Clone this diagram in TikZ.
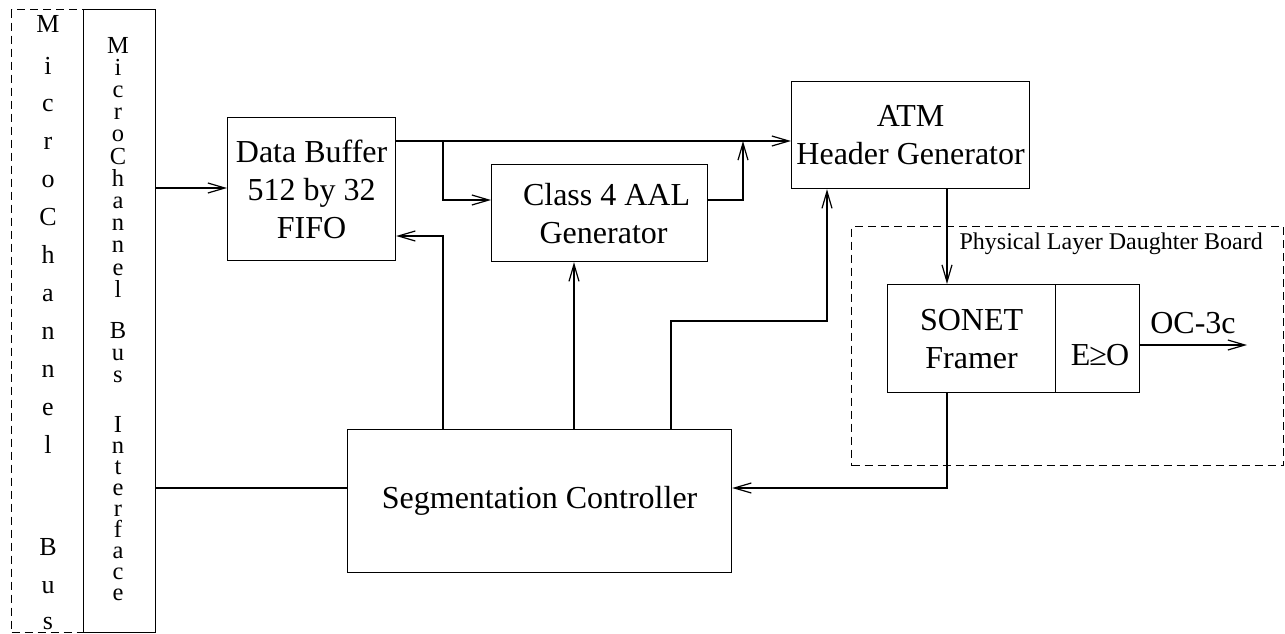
\documentclass[tikz,border=0pt]{standalone}
\usepackage{fontspec}
\setmainfont{Liberation Serif}
\usetikzlibrary{arrows.meta,calc}
\newcommand\mainlbl{\fontsize{32}{38}\selectfont}
\newcommand\colfnt{\fontsize{26}{26}\selectfont}
\newcommand\rcolfnt{\fontsize{24.5}{24.5}\selectfont}
\newcommand\smallfnt{\fontsize{24}{28}\selectfont}
\begin{document}
\begin{tikzpicture}[x=1pt,y=-1pt,
  every path/.style={line width=1.2pt},
  blk/.style={draw, line width=1.2pt, rectangle, inner sep=0pt, anchor=north west, align=center, font=\mainlbl},
  dbox/.style={draw, line width=1.2pt, rectangle, inner sep=0pt, anchor=north west, dash pattern=on 8pt off 5pt},
  arr/.style={-{Straight Barb[length=17pt,width=10pt]}},
  colchar/.style={anchor=base, inner sep=0pt, font=\colfnt},
  rcolchar/.style={anchor=base, inner sep=0pt, font=\rcolfnt},
  lbl/.style={inner sep=0pt, font=\mainlbl}]
\useasboundingbox (0,0) rectangle (1285,633);

% bus columns
\node[dbox, minimum width=72pt, minimum height=623pt] (mcd) at (11,9) {};
\node[blk, minimum width=72pt, minimum height=623pt] (mcb) at (83,9) {};
\foreach \c/\yy [count=\i] in {M/32, i/74, c/111.9, r/149.8, o/187.7, C/225.6, h/263.5, a/301.4, n/339.3, n/377.2, e/415.1, l/453, B/555, u/593, s/629}
  \node[colchar] (lc\i) at (48,\yy) {\c};
\foreach \c/\yy [count=\i] in {M/53, i/75.2, c/97.4, r/119.6, o/141.8, C/164, h/186.2, a/208.4, n/230.6, n/252.8, e/275, l/297.2, B/338, u/360, s/382, I/432, n/453, t/474, e/495, r/516, f/537, a/558, c/579, e/600}
  \node[rcolchar] (rc\i) at (118,\yy) {\c};

% blocks
\node[blk, minimum width=168pt, minimum height=143pt] (db) at (227,117) {Data Buffer\\512 by 32\\FIFO};
\node[blk, minimum width=216pt, minimum height=97pt] (aal) at (491,164) {\hspace*{14pt}Class 4 AAL\\\hspace*{8pt}Generator};
\node[blk, minimum width=238pt, minimum height=107pt] (atm) at (791,81) {ATM\\Header Generator};
\node[blk, minimum width=384pt, minimum height=143pt] (sc) at (347,429) {Segmentation Controller};
\node[dbox, minimum width=432pt, minimum height=239pt] (phys) at (851,226) {};
\node[anchor=base west, inner sep=0pt, font=\smallfnt] (physlbl) at (959,249) {Physical Layer Daughter Board};
\node[blk, minimum width=168pt, minimum height=108pt] (sonet) at (887,284) {SONET\\Framer};
\node[blk, minimum width=84pt, minimum height=108pt] (eo) at (1055,284) {};
\node[lbl, anchor=base] (eotxt) at (1100,365) {E\kern-1pt≥\kern-1ptO};
\node[lbl, anchor=base] (oc) at (1193,333) {OC-3c};

% helper coordinates
\coordinate (rowtop) at (0,141);
\coordinate (rowaal) at (0,200);
\coordinate (rowdbret) at (0,236);
\coordinate (rowdbin) at (0,188);
\coordinate (rowsc) at (0,488);
\coordinate (rowatm) at (0,321);
\coordinate (rowoc) at (0,345);
\coordinate (c443) at (443,0);
\coordinate (c574) at (574,0);
\coordinate (c671) at (671,0);
\coordinate (c743) at (743,0);
\coordinate (c827) at (827,0);
\coordinate (c947) at (947,0);
\coordinate (ocend) at (1247,345);

% connectors
\draw[arr] (mcb.east |- rowdbin) -- (db.west |- rowdbin);
\draw (mcb.east |- rowsc) -- (sc.west |- rowsc);
\draw[arr] (db.east |- rowtop) -- (atm.west |- rowtop);
\draw[arr] (c443 |- rowtop) -- (c443 |- rowaal) -- (aal.west |- rowaal);
\draw[arr] (aal.east |- rowaal) -- (c743 |- rowaal) -- (c743 |- rowtop);
\draw[arr] (sc.north -| c443) -- (c443 |- rowdbret) -- (db.east |- rowdbret);
\draw[arr] (sc.north -| c574) -- (aal.south -| c574);
\draw[arr] (sc.north -| c671) -- (c671 |- rowatm) -- (c827 |- rowatm) -- (atm.south -| c827);
\draw[arr] (atm.south -| c947) -- (sonet.north -| c947);
\draw[arr] (sonet.south -| c947) -- (c947 |- rowsc) -- (sc.east |- rowsc);
\draw[arr] (eo.east |- rowoc) -- (ocend);
\end{tikzpicture}
\end{document}
